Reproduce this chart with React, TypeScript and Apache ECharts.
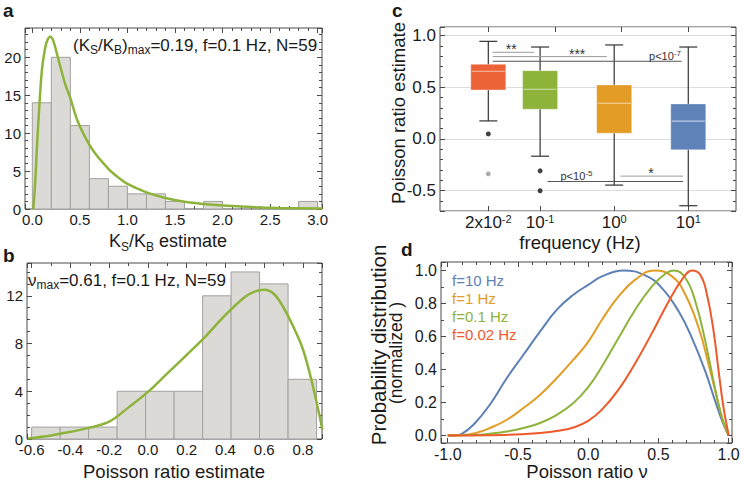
import React, { useEffect, useRef } from "react";
import * as echarts from "echarts";

const FONT = "'Liberation Sans', Arial, Helvetica, sans-serif";
const TXT = "#1a1a1a";
const FRAME = "#4a4a4a";
const GREEN = "#8DB33A";
const BAR_FILL = "#DCDAD7";
const BAR_EDGE = "#A3A19E";

// ---------- Panel a : K_S/K_B estimate histogram ----------
const aBinStarts = [0, 0.2, 0.4, 0.6, 0.8, 1.0, 1.2, 1.4, 1.6, 1.8, 2.0, 2.2, 2.4, 2.6, 2.8];
const aBinWidth = 0.2;
const aCounts = [14, 20, 11, 4, 3, 2, 2, 1, 0, 1, 0, 0, 0, 0, 1];
const aFitX = [0.01, 0.03, 0.05, 0.07, 0.1, 0.13, 0.16, 0.19, 0.22, 0.26, 0.3, 0.35, 0.4, 0.47, 0.55, 0.65, 0.8, 0.9, 1.0, 1.2, 1.4, 1.6, 1.8, 2.0, 2.3, 2.6, 3.05];
const aFitY = [0, 3.5, 8.5, 12.8, 18.2, 20.9, 22.3, 22.7, 22.2, 20.4, 18.5, 16.3, 14.6, 11.8, 9.6, 7.5, 5.3, 4.2, 3.3, 2.2, 1.45, 0.95, 0.65, 0.45, 0.25, 0.14, 0.06];

// ---------- Panel b : Poisson ratio histogram ----------
const bBinStarts = [-0.6, -0.453, -0.306, -0.159, -0.012, 0.135, 0.282, 0.429, 0.576, 0.723];
const bBinWidth = 0.147;
const bCounts = [1, 1, 1, 4, 4, 4, 12, 14, 13, 5];
const bFitX = [-0.62, -0.5, -0.4, -0.3, -0.2, -0.1, 0.0, 0.1, 0.2, 0.3, 0.4, 0.5, 0.55, 0.6, 0.65, 0.7, 0.75, 0.8, 0.85, 0.9];
const bFitY = [0.05, 0.3, 0.6, 0.95, 1.45, 2.65, 3.95, 5.5, 7.05, 8.65, 10.4, 11.9, 12.35, 12.5, 12.15, 11.0, 9.4, 7.5, 4.5, 0.8];

// ---------- Panel c : box plots vs frequency ----------
const cFreqs = [0.02, 0.1, 1, 10];
const cTickBase = ["2x10", "10", "10", "10"];
const cTickExp = ["-2", "-1", "0", "1"];
const cTopTicks = [-1.699, -0.8, 0.1, 1.0]; // log10 positions of the top-frame ticks
const cMin = [0.174, -0.168, -0.448, -0.648];
const cQ1 = [0.474, 0.287, 0.055, -0.106];
const cMed = [0.655, 0.481, 0.345, 0.171];
const cQ3 = [0.723, 0.661, 0.523, 0.339];
const cMax = [0.945, 0.89, 0.91, 0.89];
const cBoxColors = ["#EC6337", "#8DB33A", "#E39C26", "#5F82B8"];
const cOutFreq = [0.02, 0.02, 0.1, 0.1];
const cOutVal = [0.048, -0.339, -0.31, -0.503];
const cOutColor = ["#111111", "#999999", "#111111", "#111111"];
// significance brackets (x in log10 of frequency)
const cSigFrom = [-1.64, -1.64, -1.64, -0.9, 0.085];
const cSigTo = [-1.08, -0.1, 0.91, 0.93, 0.93];
const cSigY = [0.839, 0.797, 0.752, -0.413, -0.361];
const cSigTextX = [-1.39, -0.5, 0.685, -0.51, 0.495];
const cSigText = ["**", "***", "p<10^-7", "p<10^-5", "*"];
const cSigColor = ["#9a9a9a", "#9a9a9a", "#555555", "#555555", "#9a9a9a"];

// ---------- Panel d : normalized distributions ----------
const dBlue = [[-1, 0], [-0.95, 0], [-0.9, 0.01], [-0.817, 0.065], [-0.7, 0.186], [-0.579, 0.348], [-0.461, 0.489], [-0.342, 0.63], [-0.223, 0.762], [-0.105, 0.853], [0.0, 0.912], [0.098, 0.964], [0.25, 1.0], [0.406, 0.97], [0.525, 0.893], [0.644, 0.752], [0.739, 0.59], [0.834, 0.388], [0.905, 0.206], [0.964, 0.065], [1.0, 0]];
const dOrange = [[-1, 0], [-0.9, 0.002], [-0.8, 0.015], [-0.7, 0.045], [-0.579, 0.095], [-0.461, 0.166], [-0.342, 0.247], [-0.223, 0.348], [-0.105, 0.459], [0.0, 0.567], [0.098, 0.701], [0.216, 0.842], [0.335, 0.944], [0.47, 1.0], [0.597, 0.964], [0.692, 0.853], [0.787, 0.651], [0.858, 0.428], [0.917, 0.227], [0.964, 0.075], [1.0, 0]];
const dGreen = [[-1, 0], [-0.8, 0.002], [-0.7, 0.01], [-0.579, 0.024], [-0.46, 0.045], [-0.342, 0.075], [-0.223, 0.125], [-0.105, 0.196], [0.0, 0.292], [0.098, 0.418], [0.216, 0.59], [0.335, 0.762], [0.454, 0.903], [0.549, 0.98], [0.61, 1.0], [0.692, 0.954], [0.763, 0.812], [0.834, 0.57], [0.893, 0.327], [0.94, 0.145], [0.988, 0.024], [1.0, 0]];
const dRed = [[-1, 0], [-0.6, 0.003], [-0.342, 0.015], [-0.2, 0.03], [-0.105, 0.048], [0.0, 0.088], [0.098, 0.156], [0.216, 0.277], [0.335, 0.438], [0.454, 0.62], [0.573, 0.812], [0.668, 0.944], [0.74, 1.0], [0.798, 0.974], [0.846, 0.853], [0.893, 0.63], [0.929, 0.388], [0.964, 0.166], [0.995, 0.024], [1.0, 0]];
const dNames = ["f=10 Hz", "f=1 Hz", "f=0.1 Hz", "f=0.02 Hz"];
const dColors = ["#5E81B5", "#E39C26", "#8DB33A", "#EE5A2A"];

function fmtStep(step: number, dec: number) {
  return (v: number) => {
    const k = v / step;
    if (Math.abs(k - Math.round(k)) > 1e-6) return "";
    const s = (Math.round(k) * step).toFixed(dec);
    return /^-0(\.0+)?$/.test(s) ? s.slice(1) : s;
  };
}

interface Ax {
  grid: number; min: number; max: number; split?: number; interval?: number; minor?: number;
  fmt?: any; fontSize?: number; margin?: number; custom?: number[]; customOpp?: number[]; rich?: any; splitLine?: boolean;
}

function axisPair(dim: "x" | "y", a: Ax) {
  const mk = (main: boolean) => {
    const o: any = {
      type: "value",
      gridIndex: a.grid,
      position: dim === "x" ? (main ? "bottom" : "top") : (main ? "left" : "right"),
      min: a.min,
      max: a.max,
      axisLine: { show: false, onZero: false },
      axisTick: { show: true, inside: true, length: 5, lineStyle: { color: FRAME, width: 1 } },
      minorTick: { show: !!a.minor, splitNumber: a.minor || 5, length: 3, lineStyle: { color: FRAME, width: 1 } },
      axisLabel: {
        show: main, color: TXT, fontFamily: FONT, fontSize: a.fontSize || 15, margin: a.margin ?? 4,
        formatter: a.fmt, showMinLabel: true, showMaxLabel: true, hideOverlap: false,
      },
      splitLine: { show: main && !!a.splitLine, lineStyle: { color: "#dcdcdc", width: 1 } },
      axisPointer: { show: false },
    };
    if (a.split) o.splitNumber = a.split;
    if (a.interval) o.interval = a.interval;
    if (a.rich) o.axisLabel.rich = a.rich;
    if (a.custom) {
      o.axisTick.customValues = main ? a.custom : (a.customOpp || a.custom);
      o.axisLabel.customValues = a.custom;
    }
    return o;
  };
  return [mk(true), mk(false)];
}

function histRender(params: any, api: any) {
  const x0 = api.value(0), x1 = api.value(1), c = api.value(2);
  if (!c) return null;
  const p0 = api.coord([x0, c]);
  const p1 = api.coord([x1, 0]);
  return {
    type: "rect",
    shape: { x: p0[0], y: p0[1], width: p1[0] - p0[0], height: p1[1] - p0[1] },
    style: { fill: BAR_FILL, stroke: BAR_EDGE, lineWidth: 1 },
  };
}

function boxRender(params: any, api: any) {
  const i = params.dataIndex;
  const x = api.value(0);
  const pMin = api.coord([x, api.value(1)]);
  const pQ1 = api.coord([x, api.value(2)]);
  const pMed = api.coord([x, api.value(3)]);
  const pQ3 = api.coord([x, api.value(4)]);
  const pMax = api.coord([x, api.value(5)]);
  const cx = pMin[0];
  const bw = 35, cw = 18;
  const ws = { stroke: "#333333", lineWidth: 1.2 };
  return {
    type: "group",
    children: [
      { type: "line", shape: { x1: cx, y1: pMax[1], x2: cx, y2: pMin[1] }, style: ws },
      { type: "line", shape: { x1: cx - cw / 2, y1: pMax[1], x2: cx + cw / 2, y2: pMax[1] }, style: ws },
      { type: "line", shape: { x1: cx - cw / 2, y1: pMin[1], x2: cx + cw / 2, y2: pMin[1] }, style: ws },
      {
        type: "rect",
        shape: { x: cx - bw / 2, y: pQ3[1], width: bw, height: pQ1[1] - pQ3[1] },
        style: { fill: cBoxColors[i], stroke: "rgba(255,255,255,0.35)", lineWidth: 1 },
      },
      { type: "line", shape: { x1: cx - bw / 2 + 1, y1: pMed[1], x2: cx + bw / 2 - 1, y2: pMed[1] }, style: { stroke: "rgba(255,255,255,0.6)", lineWidth: 1.2 } },
    ],
  };
}

function sigRender(params: any, api: any) {
  const i = params.dataIndex;
  const y = api.value(2);
  const p0 = api.coord([api.value(0), y]);
  const p1 = api.coord([api.value(1), y]);
  const pt = api.coord([api.value(3), y]);
  const t = cSigText[i];
  const m = t.match(/^p<10\^(.*)$/);
  const star = !m;
  const text = m ? `{t|p<10}{e|${m[1]}}` : `{s|${t}}`;
  return {
    type: "group",
    children: [
      { type: "line", shape: { x1: p0[0], y1: p0[1], x2: p1[0], y2: p1[1] }, style: { stroke: cSigColor[i], lineWidth: 1 } },
      {
        type: "text",
        x: pt[0],
        y: pt[1] - (star ? 3 : 5),
        style: {
          text,
          fill: "#333333",
          align: "center",
          verticalAlign: "middle",
          textAlign: "center",
          textVerticalAlign: "middle",
          rich: {
            t: { fontSize: 11, lineHeight: 14, verticalAlign: "middle", fontFamily: FONT, fill: "#333333" },
            e: { fontSize: 8, lineHeight: 8, verticalAlign: "top", fontFamily: FONT, fill: "#333333" },
            s: { fontSize: 14, lineHeight: 14, verticalAlign: "middle", fontFamily: FONT, fill: "#333333" },
          },
        },
      },
    ],
  };
}

const subRich = (size: number, color: string) => ({
  n: { fontSize: size, lineHeight: size + 5, verticalAlign: "middle", fontFamily: FONT, fill: color, color },
  s: { fontSize: Math.round(size * 0.68), lineHeight: Math.round(size * 0.68) + 1, verticalAlign: "bottom", fontFamily: FONT, fill: color, color },
});

function gText(x: number, y: number, text: string, opts: any = {}) {
  const align = opts.align || "left";
  return {
    type: "text",
    x, y,
    rotation: opts.rotation || 0,
    style: {
      text,
      fill: opts.color || TXT,
      font: opts.font || `18px ${FONT}`,
      align, textAlign: align,
      verticalAlign: "middle", textVerticalAlign: "middle",
      rich: opts.rich,
    },
    z: 10,
  };
}

function buildOption() {
  const xAxes = [
    ...axisPair("x", { grid: 0, min: -0.077, max: 3.046, minor: 5, fmt: fmtStep(0.5, 1), fontSize: 15, margin: 3 }),
    ...axisPair("x", { grid: 1, min: -0.624, max: 0.898, split: 7, minor: 2, fmt: fmtStep(0.2, 1), fontSize: 15, margin: 3 }),
    ...axisPair("x", {
      grid: 2, min: -2.351, max: 1.644, fontSize: 17, margin: 2,
      custom: cFreqs.map((f) => Math.log10(f)), customOpp: cTopTicks,
      fmt: (v: number) => {
        const i = cFreqs.findIndex((f) => Math.abs(Math.log10(f) - v) < 1e-6);
        return i < 0 ? "" : `{b|${cTickBase[i]}}{e|${cTickExp[i]}}`;
      },
      rich: {
        b: { fontSize: 17, lineHeight: 18, verticalAlign: "bottom", color: TXT, fontFamily: FONT },
        e: { fontSize: 11, lineHeight: 11, verticalAlign: "top", color: TXT, fontFamily: FONT },
      },
    }),
    ...axisPair("x", { grid: 3, min: -1.048, max: 1.024, minor: 5, fmt: fmtStep(0.5, 1), fontSize: 16, margin: 3 }),
  ];
  const yAxes = [
    ...axisPair("y", { grid: 0, min: 0, max: 23.86, interval: 5, minor: 5, fmt: fmtStep(5, 0), fontSize: 15, margin: 4 }),
    ...axisPair("y", { grid: 1, min: 0, max: 14.75, interval: 4, minor: 4, fmt: fmtStep(4, 0), fontSize: 15, margin: 4 }),
    ...axisPair("y", { grid: 2, min: -0.699, max: 1.084, split: 3, minor: 5, fmt: fmtStep(0.5, 1), fontSize: 17, margin: 4, splitLine: true }),
    ...axisPair("y", { grid: 3, min: -0.046, max: 1.051, minor: 2, fmt: fmtStep(0.2, 1), fontSize: 16, margin: 4 }),
  ];

  const gridBase = { show: true, borderColor: FRAME, borderWidth: 1, backgroundColor: "transparent", containLabel: false, outerBoundsMode: "none" };
  const grids = [
    { ...gridBase, left: 25, top: 28, width: 297, height: 181 },
    { ...gridBase, left: 27, top: 263, width: 295, height: 176 },
    { ...gridBase, left: 440, top: 27, width: 296, height: 184 },
    { ...gridBase, left: 441, top: 262, width: 291, height: 181 },
  ];

  const series: any[] = [
    {
      type: "custom", name: "a-hist", xAxisIndex: 0, yAxisIndex: 0, clip: true,
      renderItem: histRender,
      data: aBinStarts.map((s, i) => [s, s + aBinWidth, aCounts[i]]),
    },
    {
      type: "line", name: "a-fit", xAxisIndex: 0, yAxisIndex: 0, smooth: 0.35, symbol: "none", clip: true,
      lineStyle: { color: GREEN, width: 2.5 },
      data: aFitX.map((x, i) => [x, aFitY[i]]),
    },
    {
      type: "custom", name: "b-hist", xAxisIndex: 2, yAxisIndex: 2, clip: true,
      renderItem: histRender,
      data: bBinStarts.map((s, i) => [s, s + bBinWidth, bCounts[i]]),
    },
    {
      type: "line", name: "b-fit", xAxisIndex: 2, yAxisIndex: 2, smooth: 0.35, symbol: "none", clip: true,
      lineStyle: { color: GREEN, width: 2.5 },
      data: bFitX.map((x, i) => [x, bFitY[i]]),
    },
    {
      type: "custom", name: "c-box", xAxisIndex: 4, yAxisIndex: 4,
      renderItem: boxRender,
      data: cFreqs.map((f, i) => [Math.log10(f), cMin[i], cQ1[i], cMed[i], cQ3[i], cMax[i]]),
    },
    {
      type: "scatter", name: "c-out", xAxisIndex: 4, yAxisIndex: 4, symbolSize: 5,
      data: cOutFreq.map((f, i) => ({ value: [Math.log10(f), cOutVal[i]], itemStyle: { color: cOutColor[i] } })),
    },
    {
      type: "custom", name: "c-sig", xAxisIndex: 4, yAxisIndex: 4,
      renderItem: sigRender,
      data: cSigY.map((y, i) => [cSigFrom[i], cSigTo[i], y, cSigTextX[i]]),
    },
    ...[dBlue, dOrange, dGreen, dRed].map((d, k) => ({
      type: "line", name: dNames[k], xAxisIndex: 6, yAxisIndex: 6, smooth: 0.45, symbol: "none", clip: true,
      lineStyle: { color: dColors[k], width: 2 },
      data: d,
    })),
  ];

  const graphic: any[] = [
    gText(3, 10, "a", { font: `bold 19px ${FONT}` }),
    gText(3, 255, "b", { font: `bold 19px ${FONT}` }),
    gText(392, 10, "c", { font: `bold 19px ${FONT}` }),
    gText(401, 249, "d", { font: `bold 19px ${FONT}` }),
    gText(73, 45, "{n|(K}{s|S}{n|/K}{s|B}{n|)}{s|max}{n|=0.19, f=0.1 Hz, N=59}", { rich: subRich(17, TXT) }),
    gText(28, 280, "{n|ν}{s|max}{n|=0.61, f=0.1 Hz, N=59}", { rich: subRich(17, TXT) }),
    gText(168, 241, "{n|K}{s|S}{n|/K}{s|B}{n| estimate}", { align: "center", rich: subRich(18, TXT) }),
    gText(174, 471, "Poisson ratio estimate", { align: "center", font: `18.5px ${FONT}` }),
    gText(580, 242, "frequency (Hz)", { align: "center", font: `18.5px ${FONT}` }),
    gText(398, 113, "Poisson ratio estimate", { align: "center", font: `18.5px ${FONT}`, rotation: Math.PI / 2 }),
    gText(587, 471, "Poisson ratio ν", { align: "center", font: `18.5px ${FONT}` }),
    gText(378, 345, "Probability distribution", { align: "center", font: `20.5px ${FONT}`, rotation: Math.PI / 2 }),
    gText(396, 353, "(normalized )", { align: "center", font: `17.5px ${FONT}`, rotation: Math.PI / 2 }),
    ...dNames.map((n, k) => gText(452, 280 + k * 18, n, { font: `15px ${FONT}`, color: dColors[k] })),
  ];

  return {
    animation: false,
    backgroundColor: "#ffffff",
    textStyle: { fontFamily: FONT },
    grid: grids,
    xAxis: xAxes,
    yAxis: yAxes,
    series,
    graphic,
  };
}

export default function App() {
  const ref = useRef<HTMLDivElement>(null);
  useEffect(() => {
    if (!ref.current) return;
    const chart = echarts.init(ref.current, null, { renderer: "svg" });
    chart.setOption(buildOption() as any);
    return () => chart.dispose();
  }, []);
  return <div ref={ref} style={{ position: "absolute", left: 0, top: 0, width: 744, height: 482 }} />;
}
